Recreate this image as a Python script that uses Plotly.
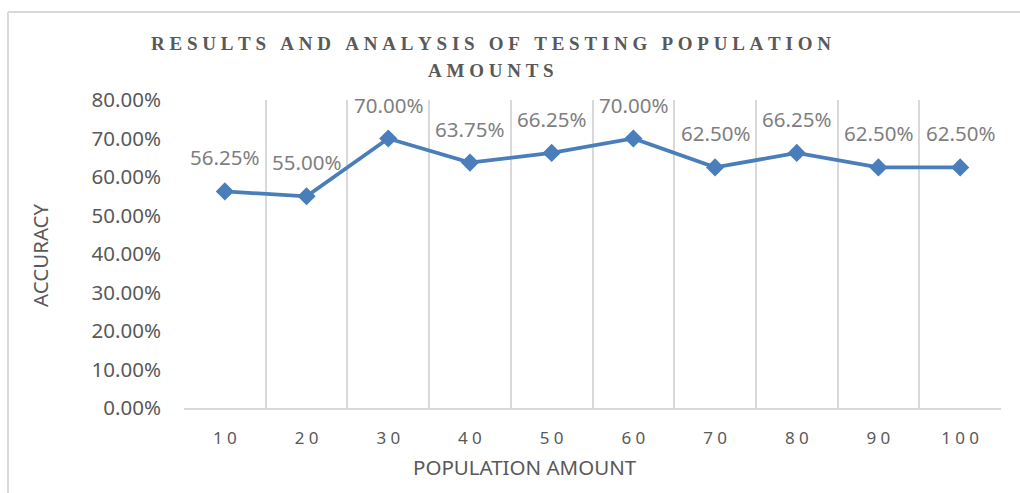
import plotly.graph_objects as go

# ---- data ----
population = ["10", "20", "30", "40", "50", "60", "70", "80", "90", "100"]
accuracy = [0.5625, 0.55, 0.70, 0.6375, 0.6625, 0.70, 0.625, 0.6625, 0.625, 0.625]
y_ticks = [0.0, 0.1, 0.2, 0.3, 0.4, 0.5, 0.6, 0.7, 0.8]
title_lines = ["RESULTS AND ANALYSIS OF TESTING POPULATION", "AMOUNTS"]
x_title = "POPULATION AMOUNT"
y_title = "ACCURACY"


def spaced(s, sep):
    return sep.join(list(s))


L, R, T, B = 184, 19, 100, 85
W, H = 1020, 493
PW, PH = W - L - R, H - T - B


def px(x):
    return (x - L) / PW


def py(y):
    return (H - B - y) / PH


fig = go.Figure()
fig.add_trace(go.Scatter(
    x=population, y=accuracy, mode="lines+markers",
    line=dict(color="#4A7EBB", width=3.75),
    marker=dict(symbol="diamond", size=14, color="#4A7EBB"),
    hoverinfo="skip", showlegend=False,
))

annotations = []
for i, v in enumerate(accuracy):
    annotations.append(dict(
        x=i, y=v, xref="x", yref="y", text=f"{v*100:.2f}%", showarrow=False,
        yshift=34, font=dict(family="Noto Sans", size=20.5, color="#7F7F7F"),
    ))

tfont = dict(family="Liberation Serif", size=19, color="#595959", weight="bold")
annotations.append(dict(x=px(491), y=py(44), xref="paper", yref="paper",
                        text=spaced(title_lines[0], "\u2005"), showarrow=False, font=tfont,
                        xanchor="center", yanchor="middle"))
annotations.append(dict(x=px(491), y=py(70), xref="paper", yref="paper",
                        text=spaced(title_lines[1], "\u2005"), showarrow=False, font=tfont,
                        xanchor="center", yanchor="middle"))
annotations.append(dict(x=px(525), y=py(467), xref="paper", yref="paper",
                        text=x_title, showarrow=False,
                        font=dict(family="Noto Sans", size=20.5, color="#595959"),
                        xanchor="center", yanchor="middle"))
annotations.append(dict(x=px(40), y=py(255), xref="paper", yref="paper",
                        text=y_title, showarrow=False, textangle=-90,
                        font=dict(family="Noto Sans", size=20.5, color="#595959"),
                        xanchor="center", yanchor="middle"))

shapes = [
    dict(type="line", xref="paper", yref="paper", x0=px(8), x1=px(1030),
         y0=py(12), y1=py(12), line=dict(color="#D9D9D9", width=2)),
    dict(type="line", xref="paper", yref="paper", x0=px(8), x1=px(8),
         y0=py(12), y1=py(500), line=dict(color="#D9D9D9", width=2)),
]

fig.update_layout(
    width=W, height=H,
    margin=dict(l=L, r=R, t=T, b=B),
    paper_bgcolor="white", plot_bgcolor="white",
    annotations=annotations, shapes=shapes,
    xaxis=dict(
        type="category", range=[-0.5, 9.5], tickson="boundaries",
        tickmode="array", tickvals=population,
        ticktext=[spaced(c, "\u2005") for c in population],
        showgrid=True, gridcolor="#D9D9D9", gridwidth=1.5,
        showline=True, linecolor="#D9D9D9", linewidth=2,
        ticks="", ticklabelstandoff=14,
        tickfont=dict(family="Noto Sans", size=17, color="#595959"),
        zeroline=False, fixedrange=True,
    ),
    yaxis=dict(
        range=[0, 0.8], tickmode="array", tickvals=y_ticks,
        tickformat=".2%", showgrid=False, zeroline=False,
        ticks="", ticklabelstandoff=22,
        tickfont=dict(family="Noto Sans", size=20.5, color="#595959"),
        fixedrange=True,
    ),
)

fig.write_html("out.html", config={"displayModeBar": False},
               post_script="document.body.style.margin='0';document.body.style.overflow='hidden';")
